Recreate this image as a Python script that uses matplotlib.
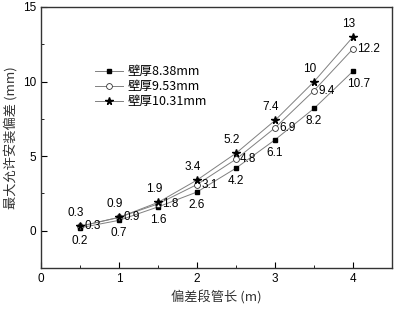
import numpy as np
import matplotlib.pyplot as plt
from matplotlib.ticker import MultipleLocator

plt.rcParams['font.family'] = ['Liberation Sans', 'Noto Sans CJK SC']

# data
lengths = [0.5, 1.0, 1.5, 2.0, 2.5, 3.0, 3.5, 4.0]
dev_838 = [0.2, 0.7, 1.6, 2.6, 4.2, 6.1, 8.2, 10.7]
dev_953 = [0.3, 0.9, 1.8, 3.1, 4.8, 6.9, 9.4, 12.2]
dev_1031 = [0.3, 0.9, 1.9, 3.4, 5.2, 7.4, 10, 13]
labels = ['壁厚8.38mm', '壁厚9.53mm', '壁厚10.31mm']

fig = plt.figure(figsize=(3.96, 3.11), dpi=100)
ax = fig.add_axes([0.1035, 0.138, 0.8865, 0.8395])

line_c = '#808080'
ax.plot(lengths, dev_838, color=line_c, lw=0.7, marker='s', ms=3.5,
        mfc='black', mec='black', label=labels[0])
ax.plot(lengths, dev_953, color=line_c, lw=0.7, marker='o', ms=4.2,
        mfc='white', mec='#333333', mew=0.6, label=labels[1])
ax.plot(lengths, dev_1031, color=line_c, lw=0.7, marker='*', ms=5.5,
        mfc='black', mec='black', label=labels[2])

fs = 8.5
for x, y in zip(lengths, dev_838):
    dx = 4 if x > 3.9 else 0
    ax.annotate(f'{y:g}', (x, y), xytext=(dx, -5), textcoords='offset points',
                ha='center', va='top', fontsize=fs)
for x, y in zip(lengths, dev_953):
    ax.annotate(f'{y:g}', (x, y), xytext=(3, 0), textcoords='offset points',
                ha='left', va='center', fontsize=fs)
for x, y in zip(lengths, dev_1031):
    ax.annotate(f'{y:g}', (x, y), xytext=(-3, 5), textcoords='offset points',
                ha='center', va='bottom', fontsize=fs)

ax.set_xlim(0, 4.5)
ax.set_ylim(-2.5, 15)
ax.xaxis.set_major_locator(MultipleLocator(1))
ax.xaxis.set_minor_locator(MultipleLocator(0.5))
ax.yaxis.set_major_locator(MultipleLocator(5))
ax.yaxis.set_minor_locator(MultipleLocator(2.5))
ax.tick_params(which='both', direction='in', labelsize=8.5, top=False, right=False)
ax.tick_params(which='major', length=4)
ax.tick_params(which='minor', length=2.5)
for s in ax.spines.values():
    s.set_linewidth(1.0)
    s.set_color('#333333')

ax.set_xlabel('偏差段管长 (m)', fontsize=9.5, family=['Noto Sans CJK SC'], color='#333333')
ax.set_ylabel('最大允许安装偏差 (mm)', fontsize=9.5, family=['Noto Sans CJK SC'], color='#333333')

leg = ax.legend(loc='upper left', bbox_to_anchor=(0.13, 0.81), frameon=False,
                handlelength=2.2, labelspacing=0.15, borderpad=0.2, handletextpad=0.4,
                prop={'family': ['Noto Sans CJK SC'], 'size': 9})

fig.savefig('out.png', dpi=100)
